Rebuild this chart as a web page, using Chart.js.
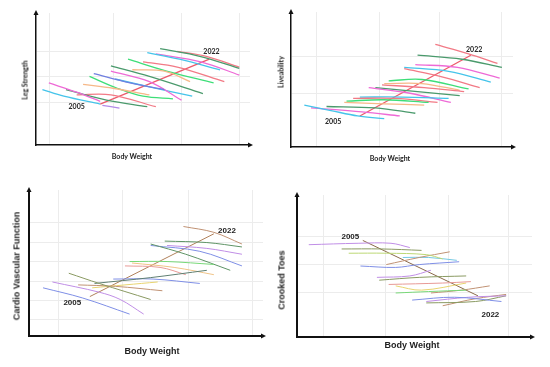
<!DOCTYPE html>
<html lang="en">
<head>
<meta charset="UTF-8">
<title>Body Weight trends 2005-2022</title>
<script src="https://cdn.jsdelivr.net/npm/chart.js"></script>
<style>
  body { margin: 0; background: #fff; }
  #wrap { position: relative; width: 550px; height: 367px; overflow: hidden; }
  .panel { position: absolute; }
  .panel canvas { display: block; }
  .lbl { position: absolute; white-space: nowrap; font-weight: bold; color: #222; line-height: 1; transform: translate(-50%, -50%); }
  .rot { transform: translate(-50%, -50%) rotate(-90deg); }
  .soft { font-family: Lato, "Open Sans", sans-serif; font-size: 7px; }
  .hard { font-family: "Liberation Sans", Arial, sans-serif; font-size: 9px; }
</style>
</head>
<body>
<div id="wrap">
  <div class="panel" style="left:0;top:0;width:275px;height:183px">
    <canvas id="leg" width="275" height="183"></canvas>
    <div class="lbl soft rot" style="left:25px;top:80px">Leg Strength</div>
    <div class="lbl soft" style="left:132px;top:156px">Body Weight</div>
  </div>
  <div class="panel" style="left:275px;top:0;width:275px;height:183px">
    <canvas id="live" width="275" height="183"></canvas>
    <div class="lbl soft rot" style="left:6px;top:72px">Liveability</div>
    <div class="lbl soft" style="left:115px;top:158px">Body Weight</div>
  </div>
  <div class="panel" style="left:0;top:183px;width:275px;height:184px">
    <canvas id="cardio" width="275" height="184"></canvas>
    <div class="lbl hard rot" style="left:17px;top:83px">Cardio Vascular Function</div>
    <div class="lbl hard" style="left:152px;top:168px">Body Weight</div>
  </div>
  <div class="panel" style="left:275px;top:183px;width:275px;height:184px">
    <canvas id="toes" width="275" height="184"></canvas>
    <div class="lbl hard rot" style="left:7px;top:97px">Crooked Toes</div>
    <div class="lbl hard" style="left:137px;top:162px">Body Weight</div>
  </div>
</div>

<script>
  // one line per year cohort, [bodyWeight, outcome] on a 0-100 scale
  const legLines = [
    [[3,42],[13,37],[30,31]], [[31,30],[39,28]], [[6,47],[19,40],[30,33]],
    [[14,42],[33,34],[52,29]], [[19,38],[35,38],[56,29]], [[22,46],[36,43],[53,38]],
    [[27,54],[44,47],[60,42]], [[25,52],[38,43],[50,37],[64,35]], [[35,56],[53,48],[68,34]],
    [[35,60],[53,52],[78,39]], [[37,50],[53,44],[73,37]], [[45,57],[60,56],[72,48]],
    [[50,63],[66,59],[88,48]], [[43,65],[61,56],[83,47]], [[52,70],[67,65],[86,57]],
    [[56,69],[77,63],[95,53]], [[58,73],[77,67],[95,58]], [[66,71],[80,67],[95,59]]
  ];
  const legColors = ['cyan','violet','magenta','dkgreen','salmon','orange','blue','green','magenta',
    'dkgreen','cyan','orange','salmon','green','cyan','magenta','dkgreen','salmon'];
  const legTrend = [[30,31],[81,65]];
  const legYears = [[19,29,'2005'],[82,71,'2022']];
  const legGridX = [6.5,36,68,95];
  const legGridY = [32,52,71];

  const liveLines = [
    [[6,31],[18,27],[30,23],[42,21]], [[9,29],[32,26],[49,23]], [[16,30],[38,29],[56,25]],
    [[24,33],[42,32],[60,31]], [[25,34],[42,35],[62,33]], [[28,36],[47,36],[66,33]],
    [[31,37],[50,37],[71,36]], [[35,44],[53,40],[72,33]], [[38,44],[57,41],[76,38]],
    [[41,46],[60,44],[78,41]], [[42,47],[59,47],[76,42]], [[44,49],[59,50],[80,43]],
    [[51,58],[68,52],[85,44]], [[51,59],[71,56],[90,48]], [[56,61],[75,59],[94,51]],
    [[57,68],[77,65],[95,59]], [[65,76],[80,69],[93,62]]
  ];
  const liveColors = ['cyan','magenta','dkgreen','orange','green','salmon','cyan','magenta','dkgreen',
    'salmon','orange','green','salmon','cyan','magenta','dkgreen','salmon'];
  const liveTrend = [[31,23],[81,68]];
  const liveYears = [[19,18.5,'2005'],[82.5,72,'2022']];
  const liveGridX = [11.5,40,67,95];
  const liveGridY = [40,67];

  const cardioLines = [
    [[6,33],[23,26],[43,15]], [[10,37],[30,30],[39,25],[49,15]], [[17,43],[30,36],[52,25]],
    [[21,35],[37,34],[57,31]], [[27,33],[41,35],[55,37]], [[28,36],[52,40],[76,45]],
    [[36,39],[53,39],[73,36]], [[43,51],[59,51],[79,49]], [[41,48],[56,47],[67,42]],
    [[44,50],[62,47],[79,42]], [[52,63],[67,56],[86,45]], [[52,62],[73,58],[91,48]],
    [[59,62],[76,60],[91,56]], [[58,65],[76,64],[91,61]], [[66,75],[79,71],[91,63]]
  ];
  const cardioColors = ['blue','violet','olive','brown','yellow','teal','blue','green','salmon',
    'orange','dkgreen','blue','violet','dkgreen','brown'];
  const cardioTrend = [[26,27],[79,70]];
  const cardioYears = [[18.5,22.7,'2005'],[84.6,72.3,'2022']];
  const cardioGridX = [12.4,40,68,95.7];
  const cardioGridY = [11.4,24.5,37.5,50.7,64,77.7];

  const toesLines = [
    [[5,65],[26,66],[40,66],[48,63]], [[19,62],[36,62],[53,61]], [[22,59],[38,59],[55,58],[62,55]],
    [[38,51],[52,56],[65,60]], [[45,56],[56,56],[68,54]], [[27,50],[42,49],[52,51],[69,53]],
    [[34,42],[48,43],[57,47]], [[35,40],[52,42],[72,43]], [[39,37],[62,38],[74,39]],
    [[42,36],[53,33],[72,38]], [[42,31],[56,32],[72,33]], [[57,31],[70,33],[82,36]],
    [[49,26],[67,28],[87,25]], [[55,25],[73,28],[89,29]], [[55,24],[76,25],[89,29]],
    [[62,22],[76,27],[89,30]]
  ];
  const toesColors = ['violet','olive','yellowgreen','brown','cyan','blue','violet','olive','salmon',
    'yellow','green','brown','blue','violet','olive','brown'];
  const toesTrend = [[28,68],[77,29]];
  const toesYears = [[22.7,70.8,'2005'],[82.3,15.9,'2022']];
  const toesGridX = [11.3,37.6,64.5,90];
  const toesGridY = [31.5,51,70.8];

  const strong = {
    cyan: '#45c4ea', magenta: '#ee6ad6', green: '#3ede78', dkgreen: '#4a9a6c', salmon: '#f27a86',
    orange: '#f6b888', blue: '#6f7fe0', violet: '#b38ae8'
  };
  const pale = {
    blue: '#7f8fe6', violet: '#c08ee6', olive: '#8a9a62', brown: '#c09274', yellow: '#e8d470',
    teal: '#5f7f72', green: '#78d878', salmon: '#e89a96', orange: '#f0c488', dkgreen: '#5f9466',
    cyan: '#74c8e2', yellowgreen: '#bcd874'
  };

  const arrowPlugin = {
    id: 'arrows',
    afterDraw(chart) {
      const { ctx, chartArea: a } = chart;
      const s = chart.options.plugins.arrows.size;
      ctx.save();
      ctx.fillStyle = '#111';
      ctx.beginPath();
      ctx.moveTo(a.left, a.top - 3);
      ctx.lineTo(a.left - s / 2, a.top - 3 + s);
      ctx.lineTo(a.left + s / 2, a.top - 3 + s);
      ctx.fill();
      ctx.beginPath();
      ctx.moveTo(a.right + 3, a.bottom);
      ctx.lineTo(a.right + 3 - s, a.bottom - s / 2);
      ctx.lineTo(a.right + 3 - s, a.bottom + s / 2);
      ctx.fill();
      ctx.restore();
    }
  };

  const yearPlugin = {
    id: 'years',
    afterDatasetsDraw(chart) {
      const o = chart.options.plugins.years;
      const { ctx, scales } = chart;
      ctx.save();
      ctx.font = o.font;
      ctx.fillStyle = '#222';
      ctx.textAlign = 'center';
      ctx.textBaseline = 'middle';
      o.items.forEach(([x, y, t]) => {
        ctx.fillText(t, scales.x.getPixelForValue(x), scales.y.getPixelForValue(y));
      });
      ctx.restore();
    }
  };

  function drawPanel(id, p) {
    const datasets = p.lines.map((pts, i) => ({
      data: pts.map(([x, y]) => ({ x, y })),
      borderColor: p.palette[p.colors[i]],
      borderWidth: p.width,
      tension: 0.35
    }));
    datasets.push({
      data: p.trend.map(([x, y]) => ({ x, y })),
      borderColor: p.trendColor,
      borderWidth: p.width,
      tension: 0
    });
    const axis = (ticks) => ({
      type: 'linear', min: 0, max: 100,
      ticks: { display: false },
      grid: { color: '#ececec', drawTicks: false, lineWidth: 1 },
      border: { display: true, color: '#111', width: p.axisWidth },
      afterBuildTicks: (s) => { s.ticks = ticks.map(v => ({ value: v })); }
    });
    new Chart(document.getElementById(id), {
      type: 'line',
      data: { datasets },
      options: {
        responsive: false,
        animation: false,
        layout: { padding: p.pad },
        elements: { point: { radius: 0 } },
        scales: { x: axis(p.gridX), y: axis(p.gridY) },
        plugins: {
          legend: { display: false },
          tooltip: { enabled: false },
          arrows: { size: p.arrow },
          years: { items: p.years, font: p.font }
        }
      },
      plugins: [arrowPlugin, yearPlugin]
    });
  }

  drawPanel('leg', {
    lines: legLines, colors: legColors, palette: strong, trend: legTrend, trendColor: '#ec5a6a',
    years: legYears, gridX: legGridX, gridY: legGridY, width: 1.3, axisWidth: 1.5, arrow: 5,
    pad: { left: 36, top: 13, right: 25, bottom: 38 }, font: 'bold 7px Lato, sans-serif'
  });
  drawPanel('live', {
    lines: liveLines, colors: liveColors, palette: strong, trend: liveTrend, trendColor: '#ec5a6a',
    years: liveYears, gridX: liveGridX, gridY: liveGridY, width: 1.3, axisWidth: 1.5, arrow: 5,
    pad: { left: 16, top: 12, right: 37, bottom: 36 }, font: 'bold 7px Lato, sans-serif'
  });
  drawPanel('cardio', {
    lines: cardioLines, colors: cardioColors, palette: pale, trend: cardioTrend, trendColor: '#b0805a',
    years: cardioYears, gridX: cardioGridX, gridY: cardioGridY, width: 1, axisWidth: 2, arrow: 5,
    pad: { left: 29, top: 7, right: 12, bottom: 31 }, font: 'bold 8px "Liberation Sans", Arial, sans-serif'
  });
  drawPanel('toes', {
    lines: toesLines, colors: toesColors, palette: pale, trend: toesTrend, trendColor: '#8a6a4a',
    years: toesYears, gridX: toesGridX, gridY: toesGridY, width: 1, axisWidth: 2, arrow: 5,
    pad: { left: 22, top: 12, right: 18, bottom: 30 }, font: 'bold 8px "Liberation Sans", Arial, sans-serif'
  });
</script>
</body>
</html>
